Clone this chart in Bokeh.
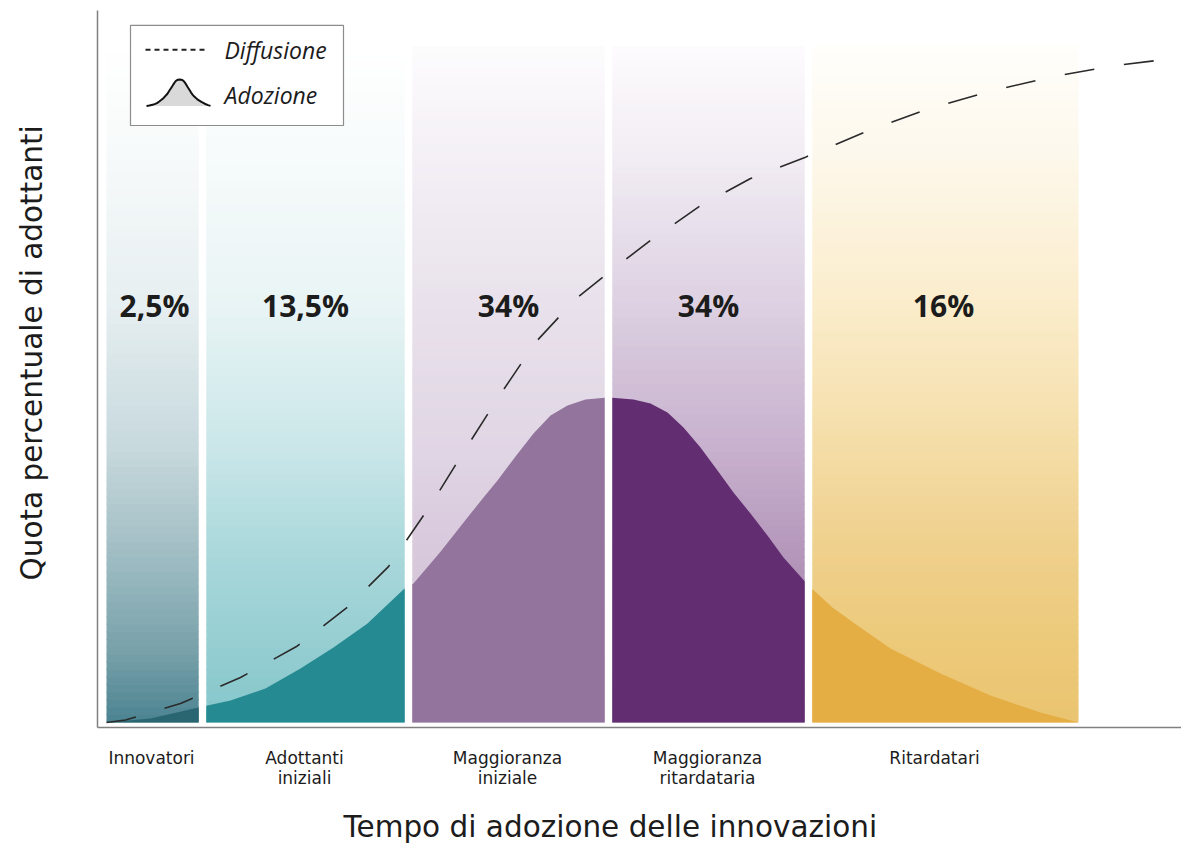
import numpy as np
from bokeh.plotting import figure
from bokeh.models import Range1d, FixedTicker, Title, ColumnDataSource
from bokeh.core.properties import value
from bokeh.embed import file_html
from bokeh.resources import INLINE

# Adopter categories; the time axis is in standard deviations from the mean adoption time
categories = ["Innovatori", "Adottanti\niniziali", "Maggioranza\niniziale",
              "Maggioranza\nritardataria", "Ritardatari"]
shares = ["2,5%", "13,5%", "34%", "34%", "16%"]
category_bounds = [-2.51, -2.03, -1.0, 0.0, 1.0, 2.35]
category_label_x = [-2.285, -1.52, -0.505, 0.495, 1.63]

# Adoption curve (share of new adopters over time)
adoption_x = [-2.51, -2.29, -2.05, -1.89, -1.715, -1.54, -1.375, -1.205, -1.02, -0.975,
              -0.84, -0.705, -0.625, -0.555, -0.465, -0.375, -0.29, -0.205, -0.115, 0.0,
              0.125, 0.21, 0.295, 0.375, 0.46, 0.545, 0.625, 0.71, 0.795, 0.875,
              1.0, 1.12, 1.245, 1.41, 1.66, 1.91, 2.16, 2.35]
adoption_y = [0.0, 0.56, 2.11, 3.09, 4.78, 7.58, 10.53, 13.9, 18.82, 19.52,
              24.0, 28.79, 31.6, 33.99, 37.36, 40.59, 43.12, 44.52, 45.37, 45.65,
              45.37, 44.8, 43.54, 41.43, 38.62, 35.39, 32.3, 29.35, 26.26, 23.17,
              19.24, 16.15, 13.62, 10.39, 6.88, 3.79, 1.4, 0.0]

# Diffusion curve (cumulative share of adopters)
diffusion_x = [-2.51, -2.415, -2.14, -1.84, -1.56, -1.30, -1.10, -0.89, -0.72, -0.545,
               -0.365, -0.16, 0.0, 0.21, 0.46, 0.71, 0.985, 1.28, 1.59, 1.90,
               2.22, 2.54, 2.865]
diffusion_y = [0.0, 0.35, 2.67, 6.32, 10.67, 16.3, 21.9, 30.5, 38.2, 45.9,
               53.4, 59.6, 63.2, 67.7, 72.6, 76.4, 79.4, 82.9, 86.1, 88.6,
               90.7, 92.3, 93.4]

# Colour scheme: vertical background gradient per category and solid fill under the curve
gradient_levels = [0, 10, 24, 38, 59, 80, 95]
gradient_colors = [
    ["#4b8391", "#78a1aa", "#a1bec4", "#c6d8dc", "#e7eff1", "#f7fafa", "#ffffff"],
    ["#84c6ca", "#94cdd1", "#aad8db", "#c9e6e8", "#e9f4f5", "#f7fbfb", "#ffffff"],
    ["#cdbad2", "#d1c0d6", "#d8c9dc", "#e0d5e4", "#e9e2ec", "#f4f0f6", "#fdfcfd"],
    ["#9c7aa5", "#a688ae", "#b497bb", "#c7b0cd", "#ddd1e2", "#f2edf4", "#fdfcfd"],
    ["#eac470", "#ecc979", "#efd08c", "#f4dca5", "#fbedcc", "#fdf8ec", "#fffefb"],
]
curve_colors = ["#2a6572", "#268a92", "#93749c", "#622e71", "#e4ae45"]

GAP = 0.038
TEXT = "#1c1c1c"
FONT = "Open Sans"
LABEL_FONT = "DejaVu Sans"


def hex_rgb(h):
    return [int(h[i:i + 2], 16) for i in (1, 3, 5)]


def gradient_color(levels, colors, y):
    rgb = np.array([hex_rgb(c) for c in colors], dtype=float)
    ch = [int(round(np.interp(y, levels, rgb[:, k]))) for k in range(3)]
    return "#%02x%02x%02x" % tuple(ch)


p = figure(width=1181, height=845, output_backend="svg", toolbar_location=None,
           title=None, x_range=Range1d(-2.555, 2.865), y_range=Range1d(-0.70, 100),
           min_border_left=97, min_border_right=0, min_border_top=10, min_border_bottom=118)
p.background_fill_color = "white"
p.border_fill_color = "white"
p.outline_line_color = None
p.xgrid.visible = False
p.ygrid.visible = False

# Category bands
ax = np.array(adoption_x)
ay = np.array(adoption_y)
n_strips = 90
top_level = gradient_levels[-1]
for i in range(len(categories)):
    left = category_bounds[i] + (GAP / 2 if i > 0 else 0)
    right = category_bounds[i + 1] - (GAP / 2 if i < len(categories) - 1 else 0)

    edges = np.linspace(0, top_level, n_strips + 1)
    mids = (edges[:-1] + edges[1:]) / 2
    src = ColumnDataSource(dict(
        left=[left] * n_strips, right=[right] * n_strips,
        bottom=edges[:-1], top=np.minimum(edges[1:] + 0.15, top_level),
        color=[gradient_color(gradient_levels, gradient_colors[i], m) for m in mids],
    ))
    p.quad(left="left", right="right", bottom="bottom", top="top", source=src,
           fill_color="color", line_color=None)

    # adoption curve area clipped to this category
    inside = (ax > left) & (ax < right)
    xs = np.concatenate([[left], ax[inside], [right]])
    ys = np.interp(xs, ax, ay)
    p.varea(x=xs, y1=np.zeros_like(xs), y2=ys, fill_color=curve_colors[i])

# Diffusion curve
p.line(diffusion_x, diffusion_y, line_dash="30 30", line_width=1.6, line_color="#2a2a2a")

# Share labels
centers = [(category_bounds[i] + category_bounds[i + 1]) / 2 for i in range(len(categories))]
p.text(x=centers, y=[58.6] * len(centers), text=shares, text_font=value(FONT),
       text_font_style="bold", text_font_size="30px", text_color=TEXT,
       text_align="center", text_baseline="middle")

# Legend box
lg_left, lg_right, lg_top, lg_bottom = -2.39, -1.325, 97.9, 83.85
p.quad(left=[lg_left], right=[lg_right], top=[lg_top], bottom=[lg_bottom],
       fill_color="white", line_color="#8c8c8c", line_width=1.2)
p.line([-2.315, -2.015], [94.5, 94.5], line_dash="5 4", line_width=2, line_color="#222222")
ic_l, ic_r, ic_b, ic_t = -2.31, -1.99, 86.6, 90.3
icon_x = ic_l + (ax - ax.min()) / (ax.max() - ax.min()) * (ic_r - ic_l)
icon_y = ic_b + ay / ay.max() * (ic_t - ic_b)
p.varea(x=icon_x, y1=np.full_like(icon_x, ic_b), y2=icon_y, fill_color="#d9d9d9")
p.line(icon_x, icon_y, line_color="#111111", line_width=2)
p.text(x=[-1.92, -1.92], y=[94.5, 88.2], text=["Diffusione", "Adozione"],
       text_font=value(FONT), text_font_style="italic", text_font_size="23px",
       text_color=TEXT, text_baseline="middle", text_align="left")

# Axes
for axis in (p.xaxis, p.yaxis):
    axis.axis_line_color = "#808080"
    axis.axis_line_width = 1.5
    axis.major_tick_line_color = None
    axis.minor_tick_line_color = None
    axis.major_tick_out = 0
    axis.major_tick_in = 0
p.yaxis.ticker = FixedTicker(ticks=[])
p.yaxis.major_label_text_font_size = "0px"
p.xaxis.ticker = FixedTicker(ticks=category_label_x)
p.xaxis.major_label_overrides = {x: c for x, c in zip(category_label_x, categories)}
p.xaxis.major_label_text_font = LABEL_FONT
p.xaxis.major_label_text_font_size = "17px"
p.xaxis.major_label_text_line_height = 1.0
p.xaxis.major_label_text_color = TEXT
p.xaxis.major_label_standoff = 20

# blank axis labels reserve room between the axes and the titles
p.xaxis.axis_label = " "
p.xaxis.axis_label_text_font = LABEL_FONT
p.xaxis.axis_label_text_font_size = "12px"
p.xaxis.axis_label_standoff = 0
p.yaxis.axis_label = " "
p.yaxis.axis_label_text_font = LABEL_FONT
p.yaxis.axis_label_text_font_size = "27px"
p.yaxis.axis_label_standoff = 5

p.add_layout(Title(text="Tempo di adozione delle innovazioni", align="left", offset=246,
                   vertical_align="bottom", text_font=LABEL_FONT, text_font_size="29.5px",
                   text_font_style="normal", text_color=TEXT, standoff=1), "below")
p.add_layout(Title(text="Quota percentuale di adottanti", align="left", offset=147,
                   vertical_align="top", text_font=LABEL_FONT, text_font_size="29.5px",
                   text_font_style="normal", text_color=TEXT, standoff=16), "left")

open("out.html", "w").write(file_html(p, INLINE))
